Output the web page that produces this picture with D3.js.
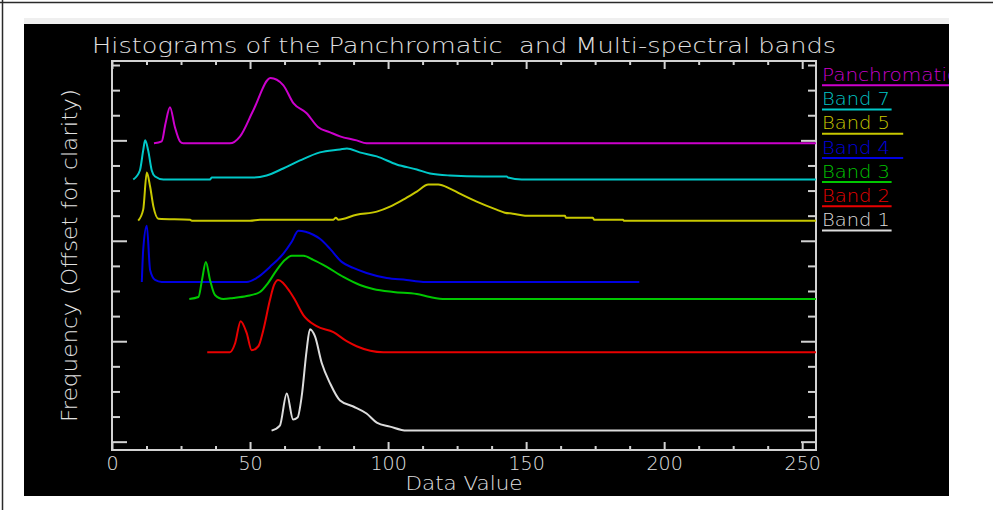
<!DOCTYPE html>
<html>
<head>
<meta charset="utf-8">
<script src="https://cdn.jsdelivr.net/npm/d3@7/dist/d3.min.js"></script>
<style>
  html, body { margin: 0; padding: 0; background: #ffffff; }
  svg { display: block; }
</style>
</head>
<body>
<svg id="chart" width="993" height="510"></svg>
<script>
// ---- Text ----
const titleText = "Histograms of the Panchromatic  and Multi-spectral bands";
const xAxisTitle = "Data Value";
const yAxisTitle = "Frequency (Offset for clarity)";

// ---- Axes ----
const xDomain = [0, 255];
const xMajorTicks = [0, 50, 100, 150, 200, 250];
const xMinorStep = 12.5;
const yDomain = [-0.083, 3.79];
const yMajorStep = 1;
const yMinorStep = 0.25;

// ---- Series: [data value, offset frequency] ----
const seriesNames  = ["Panchromatic", "Band 7", "Band 5 ", "Band 4 ", "Band 3", "Band 2", "Band 1"];
const seriesColors = ["#cc00cc", "#00c8c8", "#c8c800", "#0000e0", "#00c800", "#e80000", "#dcdcdc"];

const panchromatic = [[15.2,2.97],[18.0,2.99],[19.4,3.17],[21.0,3.33],[22.8,3.13],[24.6,2.99],[25.8,2.97],
  [42.7,2.97],[46.4,3.04],[51.2,3.30],[57.4,3.62],[62.0,3.55],[65.7,3.37],[70.5,3.27],[74.7,3.13],
  [79.0,3.08],[82.6,3.04],[88.6,3.00],[92.2,2.97],[255,2.97]];
const band7 = [[7.7,2.61],[10.1,2.70],[11.3,2.90],[12.0,3.00],[13.1,2.90],[14.4,2.70],[15.6,2.64],[18.6,2.61],
  [35.5,2.61],[36.1,2.63],[51.2,2.63],[56.0,2.65],[62.0,2.72],[68.1,2.80],[75.3,2.88],[82.6,2.91],
  [85.1,2.92],[89.7,2.88],[95.9,2.84],[103.1,2.76],[110.4,2.71],[115.2,2.67],[122.4,2.65],[134.5,2.64],
  [143.0,2.64],[143.4,2.63],[148.4,2.61],[255,2.61]];
const band5 = [[9.5,2.20],[11.3,2.31],[12.6,2.68],[13.8,2.54],[15.0,2.34],[16.8,2.22],[28.3,2.21],[28.9,2.20],
  [50.0,2.20],[53.6,2.21],[80.2,2.21],[81.1,2.23],[81.9,2.21],[88.6,2.26],[95.9,2.29],[100.7,2.34],
  [105.5,2.41],[110.4,2.49],[114.6,2.56],[118.2,2.56],[122.4,2.52],[126.0,2.47],[132.1,2.39],[139.3,2.31],
  [142.3,2.28],[145.2,2.27],[149.6,2.25],[164.1,2.25],[164.4,2.23],[174.2,2.23],[174.6,2.21],[185.1,2.21],
  [185.4,2.20],[255,2.20]];
const band4 = [[10.8,1.59],[11.3,1.91],[12.6,2.15],[13.8,1.71],[15.6,1.61],[18.0,1.59],[48.8,1.59],[52.4,1.63],
  [57.2,1.74],[62.0,1.87],[65.1,1.99],[67.5,2.10],[72.9,2.06],[75.3,2.02],[79.0,1.92],[83.2,1.79],
  [87.4,1.73],[92.2,1.68],[99.5,1.63],[106.7,1.61],[112.7,1.59],[191.0,1.59]];
const band3 = [[28.0,1.42],[31.3,1.44],[32.6,1.61],[34.0,1.79],[35.5,1.61],[37.3,1.46],[40.3,1.42],[43.9,1.43],
  [48.8,1.45],[53.6,1.49],[56.0,1.56],[59.7,1.71],[62.7,1.81],[65.1,1.85],[69.3,1.85],[72.9,1.81],
  [77.8,1.74],[83.8,1.64],[89.8,1.56],[94.6,1.52],[101.9,1.49],[110.4,1.47],[115.2,1.44],[120.6,1.42],[255,1.42]];
const band2 = [[34.5,0.89],[42.7,0.89],[44.6,0.98],[46.6,1.20],[48.8,1.08],[50.6,0.91],[53.0,0.95],[54.8,1.11],
  [57.2,1.41],[58.7,1.56],[60.2,1.61],[64.5,1.49],[66.3,1.41],[69.3,1.26],[74.1,1.15],[80.2,1.09],
  [85.0,1.00],[88.6,0.95],[98.3,0.89],[255,0.89]];
const band1 = [[57.8,0.11],[60.8,0.16],[63.3,0.48],[65.6,0.22],[67.2,0.24],[68.7,0.45],[70.5,0.91],[71.7,1.12],
  [73.5,1.05],[76.0,0.78],[79.0,0.58],[82.6,0.41],[87.4,0.35],[92.2,0.28],[95.9,0.19],[100.7,0.15],
  [106.7,0.11],[255,0.11]];

const seriesData = [panchromatic, band7, band5, band4, band3, band2, band1];

// ---- Layout ----
const W = 993, H = 510;
const panel = { x0: 24, y0: 24, x1: 949, y1: 496 };
const plot = { left: 112, right: 816, top: 61, bottom: 450 };
const axisColor = "#d2d2d2";
const textColor = "#e2e2e2";
const fontFamily = "'DejaVu Sans', 'Liberation Sans', sans-serif";

const svg = d3.select("#chart");

// page frame (top and left edges)
svg.append("line").attr("x1", 0).attr("x2", W).attr("y1", 2.5).attr("y2", 2.5)
  .attr("stroke", "#2a2a2a").attr("stroke-width", 1.5);
svg.append("line").attr("x1", 2.5).attr("x2", 2.5).attr("y1", 0).attr("y2", H)
  .attr("stroke", "#2a2a2a").attr("stroke-width", 1.5);

// light strip above the graphics window, then the black window
svg.append("rect").attr("x", panel.x0).attr("y", 18).attr("width", panel.x1 - panel.x0).attr("height", 6)
  .attr("fill", "#efefef");
svg.append("rect").attr("x", panel.x0).attr("y", panel.y0)
  .attr("width", panel.x1 - panel.x0).attr("height", panel.y1 - panel.y0).attr("fill", "#000");

svg.append("defs").append("clipPath").attr("id", "panelClip")
  .append("rect").attr("x", panel.x0).attr("y", panel.y0)
  .attr("width", panel.x1 - panel.x0).attr("height", panel.y1 - panel.y0);

const x = d3.scaleLinear().domain(xDomain).range([plot.left, plot.right]);
const y = d3.scaleLinear().domain(yDomain).range([plot.bottom, plot.top]);

const xMinorTicks = d3.range(0, xDomain[1] + 1e-9, xMinorStep).filter(v => !xMajorTicks.includes(v));
const yMajorTicks = d3.range(Math.ceil(yDomain[0] / yMajorStep) * yMajorStep, yDomain[1], yMajorStep);
const yMinorTicks = d3.range(Math.ceil(yDomain[0] / yMinorStep) * yMinorStep, yDomain[1], yMinorStep)
  .filter(v => Math.abs(v - Math.round(v / yMajorStep) * yMajorStep) > 1e-6);

function styleAxis(g) {
  g.select(".domain").remove();
  g.selectAll(".tick line").attr("stroke", axisColor).attr("stroke-width", 2);
}

const xMajorLen = 8, xMinorLen = 4, yMajorLen = 15, yMinorLen = 8;

// bottom axis
const gBottom = svg.append("g").attr("transform", `translate(0,${plot.bottom})`)
  .call(d3.axisBottom(x).tickValues(xMajorTicks).tickSize(-xMajorLen).tickFormat(d3.format("d")));
gBottom.call(styleAxis);
gBottom.selectAll(".tick text")
  .attr("y", 20).attr("dy", 0)
  .attr("fill", textColor).attr("font-size", 19).attr("font-family", fontFamily).attr("font-weight", 200);
svg.append("g").attr("transform", `translate(0,${plot.bottom})`)
  .call(d3.axisBottom(x).tickValues(xMinorTicks).tickSize(-xMinorLen).tickFormat(""))
  .call(styleAxis);

// top axis
svg.append("g").attr("transform", `translate(0,${plot.top})`)
  .call(d3.axisTop(x).tickValues(xMajorTicks).tickSize(-xMajorLen).tickFormat(""))
  .call(styleAxis);
svg.append("g").attr("transform", `translate(0,${plot.top})`)
  .call(d3.axisTop(x).tickValues(xMinorTicks).tickSize(-xMinorLen).tickFormat(""))
  .call(styleAxis);

// left axis
svg.append("g").attr("transform", `translate(${plot.left},0)`)
  .call(d3.axisLeft(y).tickValues(yMajorTicks).tickSize(-yMajorLen).tickFormat(""))
  .call(styleAxis);
svg.append("g").attr("transform", `translate(${plot.left},0)`)
  .call(d3.axisLeft(y).tickValues(yMinorTicks).tickSize(-yMinorLen).tickFormat(""))
  .call(styleAxis);

// right axis
svg.append("g").attr("transform", `translate(${plot.right},0)`)
  .call(d3.axisRight(y).tickValues(yMajorTicks).tickSize(-yMajorLen).tickFormat(""))
  .call(styleAxis);
svg.append("g").attr("transform", `translate(${plot.right},0)`)
  .call(d3.axisRight(y).tickValues(yMinorTicks).tickSize(-yMinorLen).tickFormat(""))
  .call(styleAxis);

// plot box
svg.append("rect")
  .attr("x", plot.left).attr("y", plot.top)
  .attr("width", plot.right - plot.left).attr("height", plot.bottom - plot.top)
  .attr("fill", "none").attr("stroke", axisColor).attr("stroke-width", 2);

// histogram curves
const line = d3.line().x(d => x(d[0])).y(d => y(d[1])).curve(d3.curveMonotoneX);
svg.append("g").selectAll("path")
  .data(seriesData)
  .join("path")
  .attr("d", line)
  .attr("fill", "none")
  .attr("stroke", (d, i) => seriesColors[i])
  .attr("stroke-width", 2)
  .attr("stroke-linejoin", "round");

// title
svg.append("text")
  .attr("x", (plot.left + plot.right) / 2).attr("y", 52.5)
  .attr("text-anchor", "middle")
  .attr("fill", textColor).attr("font-size", 22).attr("font-family", fontFamily).attr("font-weight", 200)
  .attr("textLength", 744).attr("lengthAdjust", "spacingAndGlyphs")
  .style("white-space", "pre")
  .text(titleText);

// x-axis title
svg.append("text")
  .attr("x", (plot.left + plot.right) / 2).attr("y", 490)
  .attr("text-anchor", "middle")
  .attr("fill", textColor).attr("font-size", 20).attr("font-family", fontFamily).attr("font-weight", 200)
  .attr("textLength", 117).attr("lengthAdjust", "spacingAndGlyphs")
  .text(xAxisTitle);

// y-axis title
svg.append("text")
  .attr("transform", `translate(77,${(plot.top + plot.bottom) / 2}) rotate(-90)`)
  .attr("text-anchor", "middle")
  .attr("fill", textColor).attr("font-size", 22).attr("font-family", fontFamily).attr("font-weight", 200)
  .attr("textLength", 333).attr("lengthAdjust", "spacingAndGlyphs")
  .text(yAxisTitle);

// legend: coloured labels with underlines, clipped at the window edge
const legendX = 822, legendY0 = 81, legendStep = 24.2, charW = 11.33, underW = 11.6;
const legend = svg.append("g").attr("clip-path", "url(#panelClip)");
seriesNames.forEach((name, i) => {
  const by = legendY0 + i * legendStep;
  const label = name.trim();
  legend.append("text")
    .attr("x", legendX).attr("y", by)
    .attr("fill", seriesColors[i]).attr("font-size", 17).attr("font-family", fontFamily).attr("font-weight", 200)
    .attr("textLength", label.length * charW).attr("lengthAdjust", "spacingAndGlyphs")
    .text(label);
  legend.append("line")
    .attr("x1", legendX).attr("x2", legendX + name.length * underW)
    .attr("y1", by + 4.3).attr("y2", by + 4.3)
    .attr("stroke", seriesColors[i]).attr("stroke-width", 2);
});
</script>
</body>
</html>
